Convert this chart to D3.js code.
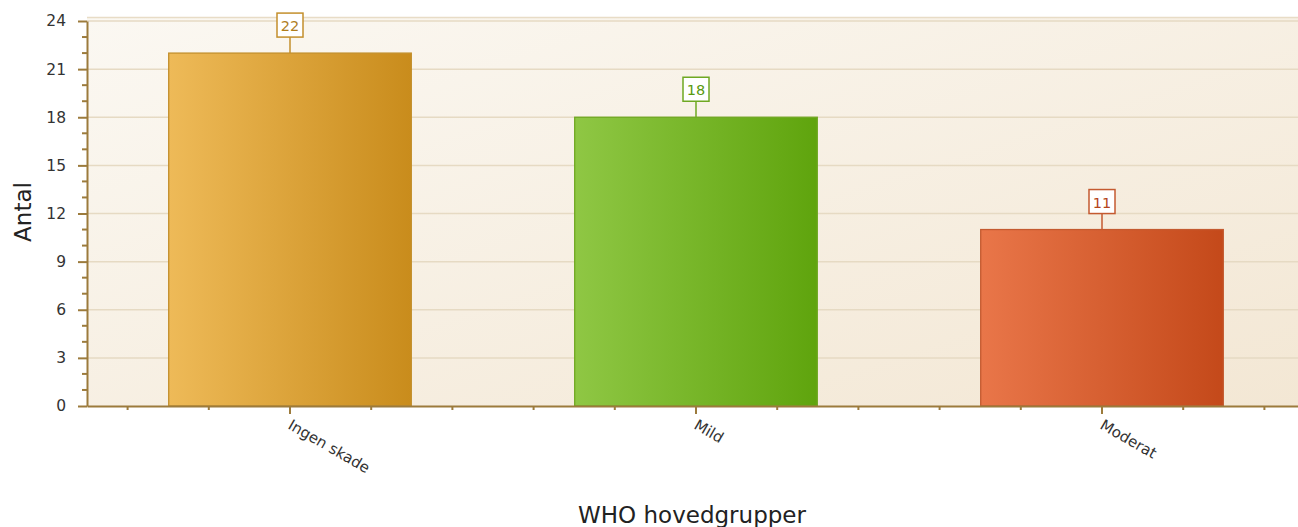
<!DOCTYPE html>
<html><head><meta charset="utf-8">
<script src="https://cdn.jsdelivr.net/npm/d3@7/dist/d3.min.js"></script>
<style>body{margin:0;background:#fff;}svg{display:block;}</style>
</head><body>
<svg id="chart" width="1298" height="527"></svg>
<script>
const categories = ["Ingen skade", "Mild", "Moderat"];
const values = [22, 18, 11];
const yTicks = [0, 3, 6, 9, 12, 15, 18, 21, 24];
const barColors = [
  {light:"#EEBA58", dark:"#C98C1C", stroke:"#C38F2C", label:"#B07E1E"},
  {light:"#8FC744", dark:"#5FA40D", stroke:"#6FA822", label:"#5A9A10"},
  {light:"#E97649", dark:"#C4491A", stroke:"#C45A30", label:"#B4441A"}
];

const svg = d3.select("#chart");
const pL = 87, pT = 17, pB = 406, pR = 87 + 406*3;
const font = "'DejaVu Sans', Verdana, sans-serif";

const x = d3.scaleBand().domain(categories).range([pL, pR]).paddingInner(0).paddingOuter(0);
const y = d3.scaleLinear().domain([0, 24]).range([pB, 21]);

const defs = svg.append("defs");
const bg = defs.append("linearGradient").attr("id","bg").attr("x1","0").attr("y1","0").attr("x2","1").attr("y2","1");
bg.append("stop").attr("offset","0").attr("stop-color","#FBF8F2");
bg.append("stop").attr("offset","1").attr("stop-color","#F3E7D4");
barColors.forEach((c,i)=>{
  const g = defs.append("linearGradient").attr("id","bar"+i).attr("x1","0").attr("y1","0").attr("x2","1").attr("y2","0");
  g.append("stop").attr("offset","0").attr("stop-color",c.light);
  g.append("stop").attr("offset","1").attr("stop-color",c.dark);
});

svg.append("rect").attr("x",pL).attr("y",pT).attr("width",pR-pL).attr("height",pB-pT).attr("fill","url(#bg)");
svg.append("line").attr("x1",pL).attr("x2",pR).attr("y1",pT+0.5).attr("y2",pT+0.5).attr("stroke","#E8DCC6").attr("stroke-width",1.5);

// gridlines
svg.append("g").selectAll("line").data(yTicks.filter(d=>d>0)).join("line")
  .attr("x1",pL).attr("x2",pR).attr("y1",d=>y(d)).attr("y2",d=>y(d))
  .attr("stroke","#E6DAC3").attr("stroke-width",1.5);

// bars
const bw = x.bandwidth()*0.6;
svg.append("g").selectAll("rect").data(values).join("rect")
  .attr("x",(d,i)=>x(categories[i])+(x.bandwidth()-bw)/2+0.5)
  .attr("y",d=>y(d))
  .attr("width",bw-1)
  .attr("height",d=>pB-y(d))
  .attr("fill",(d,i)=>"url(#bar"+i+")")
  .attr("stroke",(d,i)=>barColors[i].stroke).attr("stroke-width",1.3);

// labels
const lbl = svg.append("g").selectAll("g").data(values).join("g")
  .attr("transform",(d,i)=>`translate(${x(categories[i])+x.bandwidth()/2},${y(d)})`);
lbl.append("line").attr("x1",0).attr("x2",0).attr("y1",0).attr("y2",-16)
  .attr("stroke",(d,i)=>barColors[i].stroke).attr("stroke-width",1.5);
lbl.append("rect").attr("x",-13).attr("y",-40).attr("width",26).attr("height",24)
  .attr("fill","#fff").attr("stroke",(d,i)=>barColors[i].stroke).attr("stroke-width",1.5);
lbl.append("text").attr("x",0).attr("y",-22).attr("text-anchor","middle")
  .attr("font-family",font).attr("font-size",14.5).attr("fill",(d,i)=>barColors[i].label).text(d=>d);

// y axis
const yAxis = d3.axisLeft(y).tickValues(yTicks).tickSize(9).tickSizeOuter(0).tickPadding(12).tickFormat(d3.format("d"));
const ya = svg.append("g").attr("transform",`translate(${pL},0)`).call(yAxis);
ya.select(".domain").attr("stroke","#9C7B3C").attr("stroke-width",2);
ya.selectAll(".tick line").attr("stroke","#9C7B3C").attr("stroke-width",2);
ya.selectAll(".tick text").attr("font-family",font).attr("font-size",15.5).attr("fill","#333");
const yMinor = d3.range(0,25).filter(v=>v%3!==0);
svg.append("g").selectAll("line").data(yMinor).join("line")
  .attr("x1",pL-5).attr("x2",pL).attr("y1",d=>y(d)).attr("y2",d=>y(d))
  .attr("stroke","#9C7B3C").attr("stroke-width",2);

// x axis
const xAxis = d3.axisBottom(x).tickSize(8).tickSizeOuter(0).tickFormat("");
const xa = svg.append("g").attr("transform",`translate(0,${pB})`).call(xAxis);
xa.select(".domain").attr("stroke","#9C7B3C").attr("stroke-width",2);
xa.selectAll(".tick line").attr("stroke","#9C7B3C").attr("stroke-width",2);
const xMinor = [];
categories.forEach(c=>{ const c0 = x(c)+x.bandwidth()/2; [-2,-1,1,2].forEach(k=>xMinor.push(c0+k*x.bandwidth()/5)); });
svg.append("g").selectAll("line").data(xMinor).join("line")
  .attr("x1",d=>d).attr("x2",d=>d).attr("y1",pB).attr("y2",pB+4)
  .attr("stroke","#9C7B3C").attr("stroke-width",2);
svg.append("g").selectAll("text").data(categories).join("text")
  .attr("transform",d=>`translate(${x(d)+x.bandwidth()/2-3},${pB+22}) rotate(30)`)
  .attr("font-family",font).attr("font-size",15).attr("fill","#333").text(d=>d);

// axis titles
svg.append("text").attr("transform","translate(31,212) rotate(-90)").attr("text-anchor","middle")
  .attr("font-family",font).attr("font-size",23).attr("fill","#222").text("Antal");
svg.append("text").attr("x",692).attr("y",523).attr("text-anchor","middle")
  .attr("font-family",font).attr("font-size",23).attr("fill","#222").text("WHO hovedgrupper");
</script>
</body></html>
